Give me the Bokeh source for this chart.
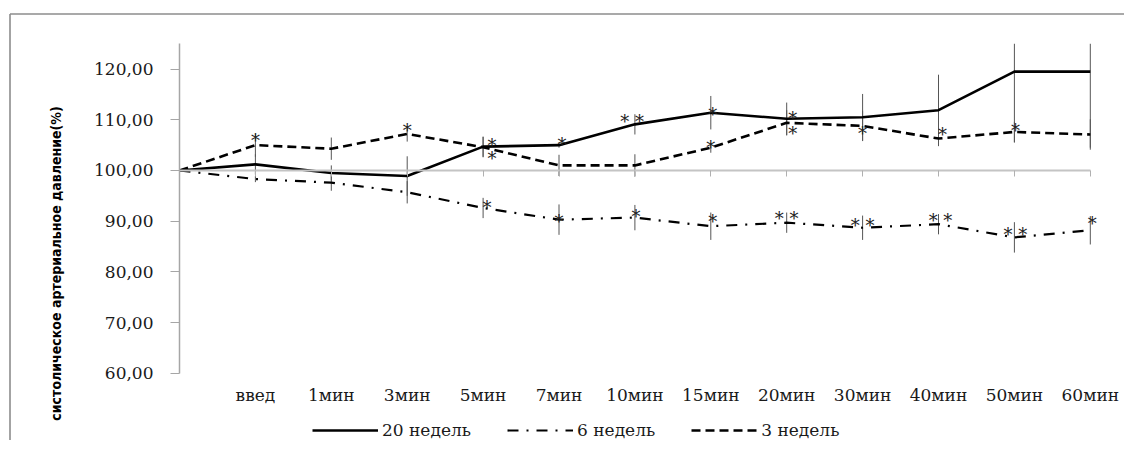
import math
from bokeh.plotting import figure
from bokeh.models import (ColumnDataSource, Range1d, LinearAxis, FixedTicker, Legend,
                          LegendItem, Label)
from bokeh.core.properties import value
from bokeh.embed import file_html
from bokeh.resources import INLINE

# ---------------- data ----------------
categories = ["", "введ", "1мин", "3мин", "5мин", "7мин", "10мин", "15мин",
              "20мин", "30мин", "40мин", "50мин", "60мин"]
w20 = [100.0, 101.2, 99.5, 98.9, 104.7, 105.0, 109.1, 111.4, 110.2, 110.5, 111.9, 119.5, 119.5]
w6 = [100.0, 98.3, 97.6, 95.7, 92.6, 90.3, 90.7, 89.0, 89.7, 88.7, 89.4, 86.8, 88.2]
w3 = [100.0, 105.0, 104.3, 107.2, 104.6, 101.0, 101.0, 104.5, 109.4, 108.8, 106.3, 107.6, 107.1]
err20 = [0.0, 2.0, 1.5, 3.9, 2.0, 0.5, 2.0, 3.3, 3.2, 4.6, 7.0, 14.0, 15.0]
err6 = [0.0, 0.6, 1.6, 2.2, 2.0, 3.0, 2.5, 2.7, 2.0, 2.4, 2.0, 3.0, 2.8]
err3 = [0.0, 2.3, 2.2, 1.5, 2.0, 2.1, 2.2, 1.0, 2.5, 3.0, 1.5, 2.0, 3.0]
series_names = ["20 недель", "6 недель", "3 недель"]
y_ticks = [60, 70, 80, 90, 100, 110, 120]
y_tick_labels = ["60,00", "70,00", "80,00", "90,00", "100,00", "110,00", "120,00"]
y_title = "систолическое артериальное давление(%)"

# significance marks: category, value level, text
star_cat = ["введ", "3мин", "5мин", "15мин", "20мин", "30мин", "40мин", "50мин",
            "5мин", "7мин", "10мин", "15мин", "20мин",
            "5мин", "7мин", "10мин", "15мин", "20мин", "30мин", "40мин", "50мин", "60мин"]
star_val = [107.0, 108.8, 103.3, 105.6, 108.2, 108.2, 108.0, 108.8,
            106.0, 106.2, 110.7, 112.0, 111.2,
            93.6, 90.85, 92.0, 91.0, 91.6, 90.1, 91.2, 88.3, 90.45]
star_txt = ["*", "*", "*", "*", "*", "*", "*", "*",
            "*", "*", "*  *", "*", "*",
            "*", "*", "*", "*", "* *", "* *", "* *", "* *", "*"]
star_dx = [0, 0, 9, 0, 6, 0, 4, 1,
           9, 3, 0, 2, 6,
           4, 0, 1, 2, 0, 0, 2, 1, 2]

# ---------------- geometry ----------------
W, H = 1124, 440
X0_PX, PX_X = 179.0, 75.9        # canvas x of first category, px per category
Y60_PX, PX_Y = 372.7, 5.068      # canvas y of value 60, px per unit
x_start = -X0_PX / PX_X
x_end = (W - X0_PX) / PX_X
y_start = 60 - (H - Y60_PX) / PX_Y
y_end = 60 + Y60_PX / PX_Y
px2x = lambda px: (px - X0_PX) / PX_X
px2y = lambda py: 60 + (Y60_PX - py) / PX_Y

xs = list(range(len(categories)))
p = figure(width=W, height=H, output_backend="svg", toolbar_location=None,
           x_range=Range1d(x_start, x_end), y_range=Range1d(y_start, y_end),
           x_axis_type=None, y_axis_type=None, min_border=0)
p.outline_line_color = None
p.background_fill_color = "white"
p.border_fill_color = "white"

SERIF = "DejaVu Serif"

# chart border (left and top edges; the others lie beyond the picture)
p.segment(x0=[px2x(9.5), px2x(9.5)], y0=[y_start, px2y(13.5)],
          x1=[px2x(9.5), x_end], y1=[px2y(13.5), px2y(13.5)],
          line_color="#8c8c8c", line_width=1.6)

# y axis (fixed at first category)
ya = LinearAxis(fixed_location=0, bounds=(60, 125), ticker=FixedTicker(ticks=y_ticks),
                major_label_overrides={t: l for t, l in zip(y_ticks, y_tick_labels)},
                axis_line_color="#a6a6a6", axis_line_width=1.5,
                major_tick_line_color="#a6a6a6", major_tick_out=9, major_tick_in=0,
                minor_tick_line_color=None, major_label_standoff=17,
                major_label_text_font=SERIF, major_label_text_font_size="17px",
                major_label_text_color="#1a1a1a")
p.add_layout(ya, "left")

# category axis crossing at 100
ax100 = LinearAxis(fixed_location=100, ticker=FixedTicker(ticks=xs), bounds=(0, 12),
                   axis_line_color="#c4c4c4", axis_line_width=2,
                   major_tick_line_color="#b0b0b0", major_tick_out=6, major_tick_in=0,
                   minor_tick_line_color=None, major_label_text_color=None)
p.add_layout(ax100, "below")

# category labels at the bottom of the value range
axl = LinearAxis(fixed_location=60, ticker=FixedTicker(ticks=xs),
                 major_label_overrides={i: c for i, c in zip(xs, categories)},
                 axis_line_color=None, major_tick_line_color=None, minor_tick_line_color=None,
                 major_tick_out=0, major_tick_in=0,
                 major_label_standoff=12, major_label_text_font=SERIF,
                 major_label_text_font_size="17px", major_label_text_color="#1a1a1a")
p.add_layout(axl, "below")

# error bars
lo = lambda v, e: [a - b for a, b in zip(v, e)]
hi = lambda v, e: [min(a + b, 125) for a, b in zip(v, e)]
for vals, errs in ((w20, err20), (w6, err6), (w3, err3)):
    p.segment(x0=xs, x1=xs, y0=lo(vals, errs), y1=hi(vals, errs),
              line_color="#555555", line_width=1)

src = ColumnDataSource(dict(x=xs, w20=w20, w6=w6, w3=w3))
r20 = p.line("x", "w20", source=src, line_color="black", line_width=2.6)
r6 = p.line("x", "w6", source=src, line_color="black", line_width=2.2, line_dash="11 8 2 8")
r3 = p.line("x", "w3", source=src, line_color="black", line_width=2.6, line_dash="9 5")

# stars
sx = [categories.index(c) for c in star_cat]
ssrc = ColumnDataSource(dict(x=sx, y=star_val, t=star_txt, dx=star_dx))
p.text(x="x", y="y", text="t", x_offset="dx", y_offset=5, source=ssrc,
       text_font=value(SERIF), text_font_size="18px", text_color="#222222",
       text_align="center", text_baseline="middle")

# y title
p.add_layout(Label(x=px2x(55), y=px2y(263), x_units="data", y_units="data", text=y_title,
                   angle=math.pi / 2, text_align="center", text_baseline="middle",
                   text_font="'DejaVu Sans Condensed', 'Liberation Serif'",
                   text_font_style="bold",
                   text_font_size="14px", text_color="black"))

# legend
legend = Legend(items=[LegendItem(label=series_names[0], renderers=[r20]),
                       LegendItem(label=series_names[1], renderers=[r6]),
                       LegendItem(label=series_names[2], renderers=[r3])],
                orientation="horizontal", location=(312, 0),
                border_line_color=None, background_fill_alpha=0,
                glyph_width=66, glyph_height=16, label_height=16,
                label_standoff=4, spacing=36,
                padding=0, margin=0, label_text_font=SERIF,
                label_text_font_size="17px", label_text_color="#1a1a1a")
p.add_layout(legend, "center")

open("out.html", "w").write(file_html(p, INLINE))
